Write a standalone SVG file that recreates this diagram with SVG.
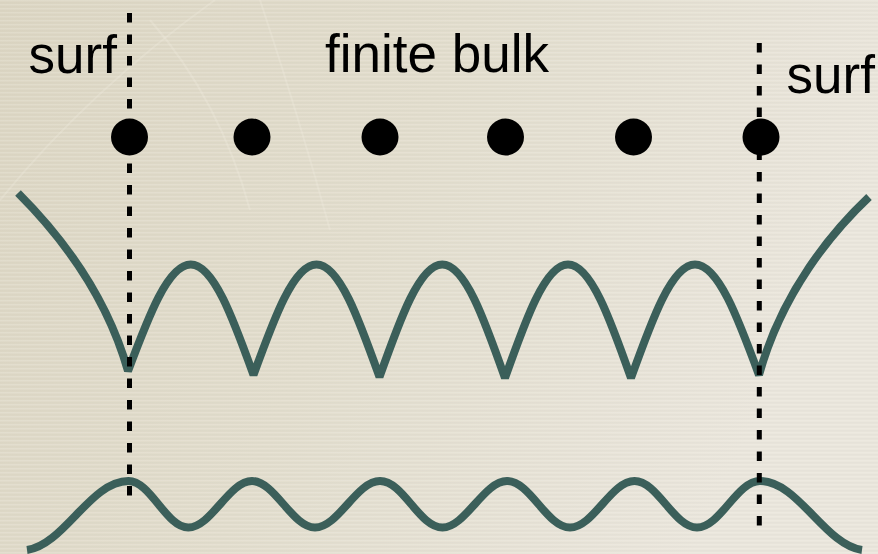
<svg xmlns="http://www.w3.org/2000/svg" width="878" height="554" viewBox="0 0 878 554">
  <defs>
    <linearGradient id="bg" x1="0" y1="0" x2="1" y2="0.3">
      <stop offset="0" stop-color="#dcd6c3"/>
      <stop offset="0.5" stop-color="#e2ddcd"/>
      <stop offset="1" stop-color="#eae6dc"/>
    </linearGradient>
    <pattern id="paper" width="8" height="4" patternUnits="userSpaceOnUse">
      <rect x="0" y="0" width="8" height="1.2" fill="#ffffff" opacity="0.12"/>
      <rect x="0" y="2.4" width="8" height="0.8" fill="#000000" opacity="0.025"/>
    </pattern>
    <style>
      .lbl { font-family: "Liberation Sans", Arial, sans-serif; font-size: 53px; fill: #000000; }
      .wave { fill: none; stroke: #3b5f5a; stroke-width: 8; stroke-linejoin: bevel; stroke-linecap: butt; }
      .dash { fill: none; stroke: #000000; stroke-width: 5; stroke-dasharray: 9.5 12; }
      .atom { fill: #000000; }
      .scratch { fill: none; stroke: #f3efe4; stroke-width: 2; opacity: 0.25; }
    </style>
  </defs>

  <g id="background">
    <rect x="0" y="0" width="878" height="554" fill="url(#bg)"/>
    <rect x="0" y="0" width="878" height="554" fill="url(#paper)"/>
    <path class="scratch" d="M0,200 Q90,90 215,0"/>
    <path class="scratch" d="M150,20 Q220,100 250,210"/>
    <path class="scratch" d="M260,0 Q300,120 330,230"/>
  </g>

  <g id="labels">
    <text id="label-surf-left" class="lbl" x="28.5" y="72.5">surf</text>
    <text id="label-finite-bulk" class="lbl" x="325" y="72">finite bulk</text>
    <text id="label-surf-right" class="lbl" x="786.5" y="93">surf</text>
  </g>

  <g id="curves">
    <path id="potential" class="wave" d="M18,193 C55,230 105,290 128,371
      C148.46,316.44 168.04,264.5 190.75,264.5
      C213.46,264.5 233.04,318.39 253.5,375
      C274.04,318.39 293.7,264.5 316.5,264.5
      C339.3,264.5 358.96,319.37 379.5,377
      C399.96,319.37 419.54,264.5 442.25,264.5
      C464.96,264.5 484.54,319.85 505,378
      C525.54,319.85 545.2,264.5 568,264.5
      C590.8,264.5 610.46,319.85 631,378
      C651.87,319.85 671.84,264.5 695,264.5
      C718.16,264.5 738.13,318.39 759,375
      C782,292 832,232 869,197"/>
    <path id="density" class="wave" d="M27,550 C64,545 90.5,481 128.5,481
      C150.5,481 166.3,527.5 188.3,527.5
      C211,527.5 229.3,481 252,481
      C274.6,481 292.4,527.5 315,527.5
      C338.3,527.5 356.7,481 380,481
      C403.3,481 419.2,527.5 442.5,527.5
      C465.2,527.5 484.3,481 507,481
      C530.2,481 546.8,527.5 570,527.5
      C593.3,527.5 611.2,481 634.5,481
      C657.4,481 674.1,527.5 697,527.5
      C720.2,527.5 736.8,481 760,481
      C798,481 825,545 862,550"/>
  </g>

  <g id="connectors">
    <line id="surface-left" class="dash" x1="129.5" y1="13" x2="129.5" y2="506"/>
    <line id="surface-right" class="dash" x1="759.3" y1="43" x2="759.3" y2="537"/>
  </g>

  <g id="atom-1"><circle class="atom" cx="129.5" cy="137" r="18.5"/></g>
  <g id="atom-2"><circle class="atom" cx="252" cy="137" r="18.5"/></g>
  <g id="atom-3"><circle class="atom" cx="380" cy="137" r="18.5"/></g>
  <g id="atom-4"><circle class="atom" cx="505.5" cy="137" r="18.5"/></g>
  <g id="atom-5"><circle class="atom" cx="633.5" cy="137" r="18.5"/></g>
  <g id="atom-6"><circle class="atom" cx="761" cy="137" r="18.5"/></g>
</svg>
